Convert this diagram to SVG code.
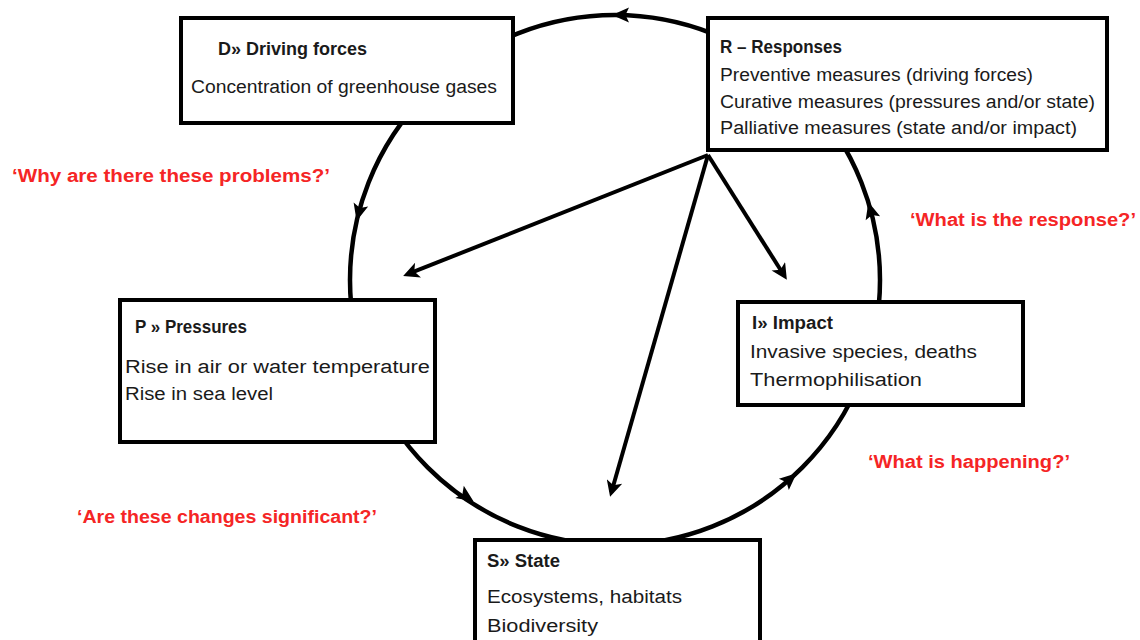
<svg xmlns="http://www.w3.org/2000/svg" width="1140" height="640" viewBox="0 0 1140 640">
<style>
.box{fill:#fff;stroke:#000;stroke-width:4}
.t{font-family:"Liberation Sans",Arial,sans-serif;font-size:18px;fill:#1a1a1a}
.b{font-weight:bold}
.q{font-family:"Liberation Sans",Arial,sans-serif;font-size:18px;font-weight:bold;fill:#f52525}
.cyc{fill:none;stroke:#000;stroke-width:4.5}
.ln{stroke:#000;stroke-width:4;fill:none}
</style>
<defs>
<marker id="ah" viewBox="0 0 10 10" refX="7" refY="5" markerWidth="21" markerHeight="16" markerUnits="userSpaceOnUse" orient="auto">
<path d="M0,0 L10,5 L0,10 L2.5,5 z" fill="#000"/>
</marker>
<path id="ch" d="M-9,-7.5 L8,0 L-9,7.5 L-5.5,0 z" fill="#000"/>
</defs>
<rect width="1140" height="640" fill="#fff"/>
<g id="connectors">
<circle class="cyc" cx="615" cy="280" r="265"/>
<use href="#ch" transform="translate(620,15) rotate(180)"/>
<use href="#ch" transform="translate(358.6,213.2) rotate(104.6)"/>
<use href="#ch" transform="translate(467,497) rotate(34.3)"/>
<use href="#ch" transform="translate(790.6,478.5) rotate(-41.5)"/>
<use href="#ch" transform="translate(870.5,209.6) rotate(-105.4)"/>
<line class="ln" x1="708" y1="155" x2="407.6" y2="274.2" marker-end="url(#ah)"/>
<line class="ln" x1="708" y1="155" x2="611.4" y2="492.2" marker-end="url(#ah)"/>
<line class="ln" x1="708" y1="155" x2="784.3" y2="275.8" marker-end="url(#ah)"/>
</g>
<g id="node-D">
<rect class="box" x="181" y="18" width="332" height="105"/>
<text class="t b" x="218" y="55" textLength="149" lengthAdjust="spacingAndGlyphs">D» Driving forces</text>
<text class="t" x="191" y="93" textLength="306" lengthAdjust="spacingAndGlyphs">Concentration of greenhouse gases</text>
</g>
<g id="node-R">
<rect class="box" x="708" y="18" width="399" height="132"/>
<text class="t b" x="720" y="53" textLength="122" lengthAdjust="spacingAndGlyphs">R – Responses</text>
<text class="t" x="720" y="81" textLength="313" lengthAdjust="spacingAndGlyphs">Preventive measures (driving forces)</text>
<text class="t" x="720" y="108" textLength="375" lengthAdjust="spacingAndGlyphs">Curative measures (pressures and/or state)</text>
<text class="t" x="720" y="134" textLength="357" lengthAdjust="spacingAndGlyphs">Palliative measures (state and/or impact)</text>
</g>
<g id="node-P">
<rect class="box" x="120" y="300" width="315" height="142"/>
<text class="t b" x="135" y="333" textLength="112" lengthAdjust="spacingAndGlyphs">P » Pressures</text>
<text class="t" x="125" y="373" textLength="305" lengthAdjust="spacingAndGlyphs">Rise in air or water temperature</text>
<text class="t" x="125" y="400" textLength="148" lengthAdjust="spacingAndGlyphs">Rise in sea level</text>
</g>
<g id="node-I">
<rect class="box" x="738" y="302" width="285" height="103"/>
<text class="t b" x="752" y="329" textLength="81" lengthAdjust="spacingAndGlyphs">I» Impact</text>
<text class="t" x="750" y="358" textLength="227" lengthAdjust="spacingAndGlyphs">Invasive species, deaths</text>
<text class="t" x="750" y="386" textLength="172" lengthAdjust="spacingAndGlyphs">Thermophilisation</text>
</g>
<g id="node-S">
<rect class="box" x="475" y="540" width="285" height="115"/>
<text class="t b" x="487" y="567" textLength="73" lengthAdjust="spacingAndGlyphs">S» State</text>
<text class="t" x="487" y="603" textLength="195" lengthAdjust="spacingAndGlyphs">Ecosystems, habitats</text>
<text class="t" x="487" y="632" textLength="111" lengthAdjust="spacingAndGlyphs">Biodiversity</text>
</g>
<g id="labels">
<text class="q" x="12" y="182" textLength="318" lengthAdjust="spacingAndGlyphs">‘Why are there these problems?’</text>
<text class="q" x="910" y="226" textLength="226" lengthAdjust="spacingAndGlyphs">‘What is the response?’</text>
<text class="q" x="868" y="468" textLength="202" lengthAdjust="spacingAndGlyphs">‘What is happening?’</text>
<text class="q" x="77" y="523" textLength="300" lengthAdjust="spacingAndGlyphs">‘Are these changes significant?’</text>
</g>
</svg>
